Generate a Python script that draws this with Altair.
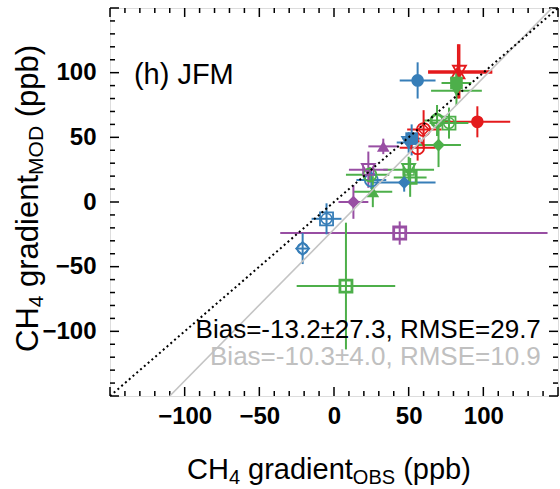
import altair as alt
import pandas as pd

# ---------------- data ----------------
grp   = ["blue","blue","blue","blue","blue","blue","blue",
         "red","red","red","red","red",
         "green","green","green","green","green","green","green","green","green","green",
         "purple","purple","purple","purple"]
shape = ["circle","square","triangle-down","circle","diamond","square","diamond",
         "triangle-down","triangle-up","circle","circle","circle",
         "triangle-down","square","circle","square","diamond","triangle-down","square","triangle-up","square","circle",
         "triangle-up","triangle-down","diamond","square"]
fill  = ["filled","filled","open","open","filled","open","open",
         "open","open","filled","open","open",
         "filled","filled","open","open","filled","open","open","filled","open","open",
         "filled","open","filled","open"]
inner = ["none","none","none","none","none","plus","plus",
         "none","none","none","star","none",
         "none","none","plus","plus","none","x","x","none","x","none",
         "none","x","none","x"]
obs   = [56, 52, 50, 25, 47, -5, -21,
         84, 83, 96, 60, 56,
         82, 82, 69, 77, 70, 50, 51, 26, 8, 24,
         33, 23, 13, 44]
mod   = [94, 49, 46, 17, 15, -13, -36,
         101, 100, 62, 56, 42,
         86, 92, 63, 61, 44, 25, 19, 8, -65, 21,
         43, 25, 0, -24]
obs_lo = [44, 46, 42, 15, 25, -15, -25,
          63, 63, 74, 49, 44,
          65, 72, 60, 64, 55, 33, 40, 13, -25, 8,
          23, 10, 3, -36]
obs_hi = [68, 58, 60, 35, 68, 5, -17,
          106, 106, 118, 72, 68,
          99, 92, 78, 90, 85, 67, 62, 39, 41, 37,
          43, 36, 23, 143]
mod_lo = [80, 36, 38, 10, 8, -25, -48,
          80, 80, 50, 41, 32,
          75, 85, 51, 49, 27, 15, 4, -4, -114, 15,
          37, 11, -13, -33]
mod_hi = [108, 60, 54, 24, 22, -1, -24,
          122, 122, 74, 71, 52,
          100, 99, 75, 73, 61, 35, 34, 20, -16, 27,
          49, 39, 13, -15]

one_x = [-150, 150]
one_y = [-150, 150]
fit_x = [-110, 146]
fit_y = [-150, 150]

major_ticks = [-150, -100, -50, 0, 50, 100, 150]
minor_ticks = [-140, -130, -120, -110, -90, -80, -70, -60, -40, -30, -20, -10,
               10, 20, 30, 40, 60, 70, 80, 90, 110, 120, 130, 140]
label_ticks = [-100, -50, 0, 50, 100]

panel_label = "(h) JFM"
stat_black = "Bias=-13.2\u00b127.3, RMSE=29.7"
stat_grey = "Bias=-10.3\u00b14.0, RMSE=10.9"

group_domain = ["blue", "red", "green", "purple"]
group_colors = ["#377eb8", "#e41a1c", "#4daf4a", "#984ea3"]

# ---------------- layout ----------------
W, H = 448, 388
FONT = "Liberation Sans"

df = pd.DataFrame({"grp": grp, "shape": shape, "fill": fill, "inner": inner,
                   "x": obs, "y": mod, "xlo": obs_lo, "xhi": obs_hi,
                   "ylo": mod_lo, "yhi": mod_hi})

xs = alt.Scale(domain=[-150, 150], nice=False, zero=False)
ys = alt.Scale(domain=[-150, 150], nice=False, zero=False)
xaxis = alt.Axis(values=label_ticks, title=None, ticks=False, tickSize=0, domain=False,
                 grid=False, labelFont=FONT, labelFontSize=24, labelFontWeight="bold",
                 labelColor="black", labelPadding=8)
yaxis = alt.Axis(values=label_ticks, title=None, ticks=False, tickSize=0, domain=False,
                 grid=False, labelFont=FONT, labelFontSize=24, labelFontWeight="bold",
                 labelColor="black", labelPadding=14)
col = alt.Color("grp:N", scale=alt.Scale(domain=group_domain, range=group_colors), legend=None)
shp = alt.Shape("shape:N", scale=alt.Scale(
    domain=["circle", "square", "diamond", "triangle-up", "triangle-down"],
    range=["circle", "square", "diamond", "triangle-up", "triangle-down"]), legend=None)
inner_shape = alt.Shape("inner:N", scale=alt.Scale(
    domain=["plus", "x", "star"],
    range=["M-1,0L1,0M0,-1L0,1",
           "M-1,-1L1,1M-1,1L1,-1",
           "M-1,0L1,0M0,-1L0,1M-0.75,-0.75L0.75,0.75M-0.75,0.75L0.75,-0.75"]), legend=None)

base = alt.Chart(df)
hbar = base.mark_rule(strokeWidth=2).encode(
    x=alt.X("xlo:Q", scale=xs, axis=xaxis), x2="xhi:Q",
    y=alt.Y("y:Q", scale=ys, axis=yaxis), color=col)
vbar = base.mark_rule(strokeWidth=2).encode(
    x=alt.X("x:Q", scale=xs, axis=xaxis),
    y=alt.Y("ylo:Q", scale=ys, axis=yaxis), y2="yhi:Q", color=col)
pts_f = base.transform_filter(alt.datum.fill == "filled").mark_point(
    filled=True, opacity=1, size=160).encode(
    x=alt.X("x:Q", scale=xs, axis=xaxis), y=alt.Y("y:Q", scale=ys, axis=yaxis),
    color=col, shape=shp)
pts_o = base.transform_filter(alt.datum.fill == "open").mark_point(
    filled=False, opacity=1, size=170, strokeWidth=1.8).encode(
    x=alt.X("x:Q", scale=xs, axis=xaxis), y=alt.Y("y:Q", scale=ys, axis=yaxis),
    color=col, shape=shp)
pts_i = base.transform_filter(alt.datum.inner != "none").mark_point(
    filled=False, opacity=1, size=115, strokeWidth=1.5).encode(
    x=alt.X("x:Q", scale=xs, axis=xaxis), y=alt.Y("y:Q", scale=ys, axis=yaxis),
    color=col, shape=inner_shape)

one_line = alt.Chart(pd.DataFrame({"x": one_x, "y": one_y})).mark_line(
    color="black", strokeWidth=2, strokeDash=[2, 3], clip=True).encode(
    x=alt.X("x:Q", scale=xs, axis=xaxis), y=alt.Y("y:Q", scale=ys, axis=yaxis))
fit_line = alt.Chart(pd.DataFrame({"x": fit_x, "y": fit_y})).mark_line(
    color="#c4c4c4", strokeWidth=1.6, clip=True).encode(
    x=alt.X("x:Q", scale=xs, axis=xaxis), y=alt.Y("y:Q", scale=ys, axis=yaxis))

# inward ticks on all four sides
def tick_layers(vals, length):
    d = pd.DataFrame({"v": vals})
    c = alt.Chart(d).mark_rule(color="black", strokeWidth=1.5)
    xe = alt.X("v:Q", scale=xs, axis=xaxis)
    ye = alt.Y("v:Q", scale=ys, axis=yaxis)
    return [
        c.encode(x=xe, y=alt.value(H), y2=alt.value(H - length)),
        c.encode(x=xe, y=alt.value(0), y2=alt.value(length)),
        c.encode(y=ye, x=alt.value(0), x2=alt.value(length)),
        c.encode(y=ye, x=alt.value(W), x2=alt.value(W - length)),
    ]

ticks = tick_layers(major_ticks, 9) + tick_layers(minor_ticks, 5)

# in-plot texts
def txt(s, x, y, size, color, align, baseline="middle"):
    return alt.Chart(pd.DataFrame({"t": [s], "x": [x], "y": [y]})).mark_text(
        font=FONT, fontSize=size, color=color, align=align, baseline=baseline).encode(
        x=alt.X("x:Q", scale=xs, axis=xaxis), y=alt.Y("y:Q", scale=ys, axis=yaxis), text="t:N")

texts = [
    txt(panel_label, -134, 98, 29, "black", "left"),
    txt(stat_black, 138.5, -99, 26, "black", "right"),
    txt(stat_grey, 138.5, -120, 26, "#c0c0c0", "right"),
]

# axis titles with subscripts (Arial/Liberation advance widths)
AW = {'C': 722, 'H': 722, '4': 556, ' ': 278, 'g': 556, 'r': 333, 'a': 556, 'd': 556,
      'i': 222, 'e': 556, 'n': 556, 't': 278, 'O': 778, 'B': 667, 'S': 667, 'M': 833,
      'D': 722, '(': 333, ')': 333, 'p': 556, 'b': 556}

def width(s, size):
    return sum(AW.get(ch, 556) for ch in s) * size / 1000.0

def title_layers(parts, x0, y0, big, small, sub_shift, vertical):
    out = []
    pos = 0.0
    for s, is_sub in parts:
        size = small if is_sub else big
        dy = sub_shift if is_sub else 0
        lead = len(s) - len(s.lstrip(" "))
        pos += width(" " * lead, size)
        s = s.lstrip(" ")
        d = pd.DataFrame({"t": [s]})
        kw = dict(font=FONT, fontSize=size, color="black", align="left",
                  baseline="alphabetic", dx=pos, dy=dy)
        if vertical:
            kw["angle"] = 270
        m = alt.Chart(d).mark_text(**kw)
        out.append(m.encode(x=alt.value(x0), y=alt.value(y0), text="t:N"))
        pos += width(s, size)
    return out

xtitle = title_layers([("CH", False), ("4", True), (" gradient", False), ("OBS", True),
                       (" (ppb)", False)], 187 - 110, 479 - 8, 29, 20, 5, False)
ytitle = title_layers([("CH", False), ("4", True), (" gradient", False), ("MOD", True),
                       (" (ppb)", False)], 38 - 110, 352 - 8, 31, 21, 5, True)

chart = alt.layer(
    hbar, vbar, *ticks, pts_o, pts_i, pts_f, fit_line, one_line, *texts, *xtitle, *ytitle
).properties(
    width=W, height=H,
    autosize=alt.AutoSizeParams(type="none"),
    padding={"left": 110, "top": 8, "right": 2, "bottom": 93},
).configure_view(stroke="black", strokeWidth=1.5).configure(background="white")

chart.save("out.html", embed_options={"renderer": "svg", "actions": False})
